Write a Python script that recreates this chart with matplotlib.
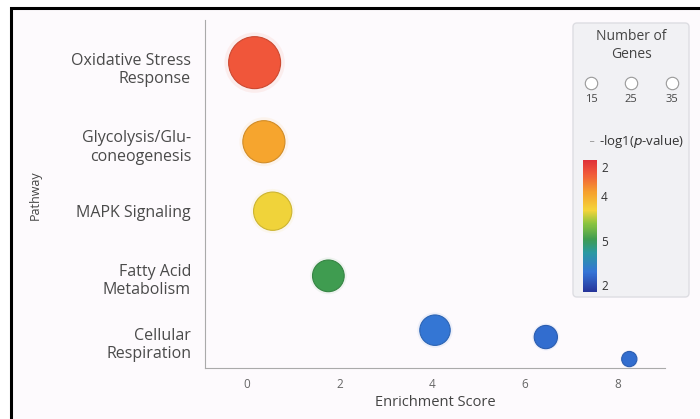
import numpy as np
import matplotlib
matplotlib.use("Agg")
import matplotlib.pyplot as plt
from matplotlib.colors import LinearSegmentedColormap, Normalize
from matplotlib.patches import FancyBboxPatch
import matplotlib.cm as cm

plt.rcParams['font.family'] = ['Open Sans', 'DejaVu Sans']

# pathway categories (bottom to top)
pathways = ['Cellular\nRespiration', 'Fatty Acid\nMetabolism', 'MAPK Signaling',
            'Glycolysis/Glu-\nconeogenesis', 'Oxidative Stress\nResponse']
pathway_pos = [0, 0.93, 1.91, 2.87, 4.0]

# bubbles
enrichment = [0.17, 0.37, 0.56, 1.76, 4.06, 6.45, 8.25]
pathway_y = [4.06, 2.91, 1.90, 0.96, 0.17, 0.07, -0.25]
gene_count = [35, 23, 19, 13, 12, 7, 3]
neg_log_p = [8.3, 7.2, 6.3, 4.8, 3.1, 2.95, 2.95]

# legend values
size_legend = [15, 25, 35]
cbar_ticks = [2.37, 4.7, 7.09, 8.63]
cbar_labels = ['2', '5', '4', '2']

cmap = LinearSegmentedColormap.from_list('bubble', [
    (0.00, '#26359a'), (0.15, '#3474d6'), (0.30, '#2a9aa0'), (0.40, '#3f9c50'),
    (0.52, '#8cc43e'), (0.62, '#f4d43a'), (0.75, '#f6a32e'), (0.90, '#f0573a'),
    (1.00, '#df3139')])
norm = Normalize(vmin=2, vmax=9)

fig = plt.figure(figsize=(7, 4.19), dpi=100, facecolor='white')

# background panel with black top/left frame
W, H = 700, 419
bg = fig.add_axes([0, 0, 1, 1], zorder=0)
bg.set_xlim(0, W)
bg.set_ylim(H, 0)
bg.axis('off')
bg.add_patch(plt.Rectangle((11, 8), W - 11, H - 8, facecolor='#fdfafd', edgecolor='none'))
bg.plot([11, 11, W], [H, 8, 8], color='black', lw=2.2, solid_joinstyle='miter')

ax = fig.add_axes([205 / W, 1 - 368 / H, 460 / W, 348 / H], zorder=2)
ax.set_facecolor('none')

colors = cmap(norm(neg_log_p))
sizes = np.array(gene_count) * 40
# soft glow
ax.scatter(enrichment, pathway_y, s=sizes * 1.35, c=colors, alpha=0.08, linewidths=0, zorder=2)
ax.scatter(enrichment, pathway_y, s=sizes, c=colors, edgecolors=[tuple(np.array(c[:3]) * 0.85) for c in colors],
           linewidths=0.8, zorder=3)

ax.set_xlim(-0.9, 9.02)
ax.set_ylim(-0.38, 4.68)
ax.set_xticks([0, 2, 4, 6, 8])
ax.set_yticks(pathway_pos)
ax.set_yticklabels(pathways, ha='right')
ax.tick_params(length=0, colors='#555555')
ax.tick_params(axis='y', labelsize=11.5, labelcolor='#4a4a4a', pad=10)
ax.tick_params(axis='x', labelsize=8.5, labelcolor='#666666', pad=7)
for lbl in ax.get_yticklabels():
    lbl.set_multialignment('right')
for s in ['top', 'right']:
    ax.spines[s].set_visible(False)
for s in ['left', 'bottom']:
    ax.spines[s].set_color('#aaaaaa')
    ax.spines[s].set_linewidth(0.8)
ax.set_xlabel('Enrichment Score', fontsize=10.5, color='#444444', labelpad=3)
fig.text(35 / W, 1 - 195 / H, 'Pathway', rotation=90, ha='center', va='center', fontsize=9, color='#444444')

# legend box
lax = fig.add_axes([0, 0, 1, 1], zorder=5)
lax.set_xlim(0, W)
lax.set_ylim(H, 0)
lax.axis('off')
lax.add_patch(FancyBboxPatch((573, 23), 116, 274, boxstyle='round,pad=0,rounding_size=4',
                             facecolor='#f1f1f4', edgecolor='#dddde2', lw=1))
lax.text(631, 36, 'Number of', ha='center', va='center', fontsize=10, color='#444444')
lax.text(631, 55, 'Genes', ha='center', va='center', fontsize=10, color='#444444')
for xx, v in zip([591, 631, 672], size_legend):
    lax.scatter([xx], [83], s=80, facecolor='white', edgecolor='#999999', linewidths=0.8)
    lax.text(xx, 99, str(v), ha='center', va='center', fontsize=8, color='#444444')
lax.text(591, 143, '_', ha='center', va='bottom', fontsize=7, color='#888888')
lax.text(642, 141, r'-log1($p$-value)', ha='center', va='center', fontsize=9.5, color='#333333')

cax = fig.add_axes([583 / W, 1 - 292 / H, 14 / W, 132 / H], zorder=6)
cb = fig.colorbar(cm.ScalarMappable(norm=norm, cmap=cmap), cax=cax)
cb.outline.set_visible(False)
cb.set_ticks(cbar_ticks)
cb.set_ticklabels(cbar_labels)
cax.tick_params(length=0, labelsize=8.5, colors='#333333', pad=3)

fig.savefig('out.png', dpi=100, facecolor=fig.get_facecolor())
